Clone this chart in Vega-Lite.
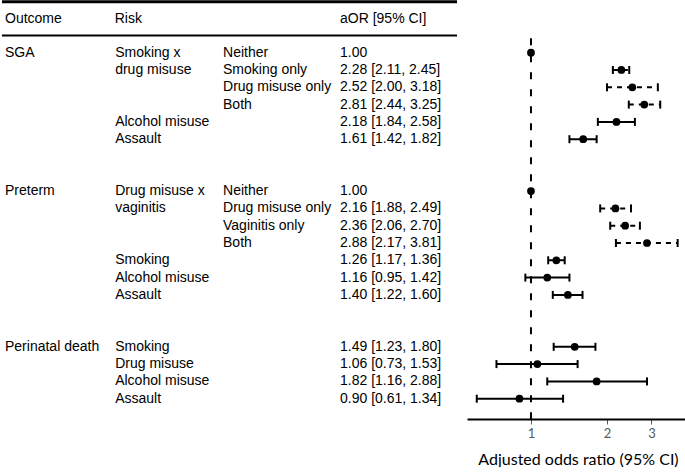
{
  "$schema": "https://vega.github.io/schema/vega-lite/v6.json",
  "padding": 0,
  "spacing": 8,
  "config": {
    "view": {"stroke": null},
    "text": {"font": "Liberation Sans", "fontSize": 14, "color": "#000000", "align": "left", "baseline": "middle"}
  },
  "datasets": {
    "header": [{"row": -2, "outcome": "Outcome", "risk": "Risk", "est": "aOR [95% CI]"}],
    "rows": [
      {"row": 0, "outcome": "SGA", "risk": "Smoking x", "sub": "Neither", "est": "1.00", "or": 1.0, "lo": null, "hi": null, "kind": "interaction"},
      {"row": 1, "outcome": "", "risk": "drug misuse", "sub": "Smoking only", "est": "2.28 [2.11, 2.45]", "or": 2.28, "lo": 2.11, "hi": 2.45, "kind": "interaction"},
      {"row": 2, "outcome": "", "risk": "", "sub": "Drug misuse only", "est": "2.52 [2.00, 3.18]", "or": 2.52, "lo": 2.0, "hi": 3.18, "kind": "interaction"},
      {"row": 3, "outcome": "", "risk": "", "sub": "Both", "est": "2.81 [2.44, 3.25]", "or": 2.81, "lo": 2.44, "hi": 3.25, "kind": "interaction"},
      {"row": 4, "outcome": "", "risk": "Alcohol misuse", "sub": "", "est": "2.18 [1.84, 2.58]", "or": 2.18, "lo": 1.84, "hi": 2.58, "kind": "main"},
      {"row": 5, "outcome": "", "risk": "Assault", "sub": "", "est": "1.61 [1.42, 1.82]", "or": 1.61, "lo": 1.42, "hi": 1.82, "kind": "main"},
      {"row": 8, "outcome": "Preterm", "risk": "Drug misuse x", "sub": "Neither", "est": "1.00", "or": 1.0, "lo": null, "hi": null, "kind": "interaction"},
      {"row": 9, "outcome": "", "risk": "vaginitis", "sub": "Drug misuse only", "est": "2.16 [1.88, 2.49]", "or": 2.16, "lo": 1.88, "hi": 2.49, "kind": "interaction"},
      {"row": 10, "outcome": "", "risk": "", "sub": "Vaginitis only", "est": "2.36 [2.06, 2.70]", "or": 2.36, "lo": 2.06, "hi": 2.7, "kind": "interaction"},
      {"row": 11, "outcome": "", "risk": "", "sub": "Both", "est": "2.88 [2.17, 3.81]", "or": 2.88, "lo": 2.17, "hi": 3.81, "kind": "interaction"},
      {"row": 12, "outcome": "", "risk": "Smoking", "sub": "", "est": "1.26 [1.17, 1.36]", "or": 1.26, "lo": 1.17, "hi": 1.36, "kind": "main"},
      {"row": 13, "outcome": "", "risk": "Alcohol misuse", "sub": "", "est": "1.16 [0.95, 1.42]", "or": 1.16, "lo": 0.95, "hi": 1.42, "kind": "main"},
      {"row": 14, "outcome": "", "risk": "Assault", "sub": "", "est": "1.40 [1.22, 1.60]", "or": 1.4, "lo": 1.22, "hi": 1.6, "kind": "main"},
      {"row": 17, "outcome": "Perinatal death", "risk": "Smoking", "sub": "", "est": "1.49 [1.23, 1.80]", "or": 1.49, "lo": 1.23, "hi": 1.8, "kind": "main"},
      {"row": 18, "outcome": "", "risk": "Drug misuse", "sub": "", "est": "1.06 [0.73, 1.53]", "or": 1.06, "lo": 0.73, "hi": 1.53, "kind": "main"},
      {"row": 19, "outcome": "", "risk": "Alcohol misuse", "sub": "", "est": "1.82 [1.16, 2.88]", "or": 1.82, "lo": 1.16, "hi": 2.88, "kind": "main"},
      {"row": 20, "outcome": "", "risk": "Assault", "sub": "", "est": "0.90 [0.61, 1.34]", "or": 0.9, "lo": 0.61, "hi": 1.34, "kind": "main"}
    ]
  },
  "hconcat": [
    {
      "width": 455,
      "height": 418,
      "layer": [
        {
          "data": {"name": "header"},
          "mark": {"type": "rule", "strokeWidth": 3, "color": "#000000"},
          "encoding": {"y": {"datum": -2.94, "type": "quantitative", "scale": {"domain": [-2.988, 21.173], "reverse": true, "nice": false, "zero": false}, "axis": null}}
        },
        {
          "data": {"name": "header"},
          "mark": {"type": "rule", "strokeWidth": 2, "color": "#000000"},
          "encoding": {"y": {"datum": -1, "type": "quantitative", "axis": null}}
        },
        {
          "data": {"name": "header"},
          "mark": {"type": "text", "dy": 1},
          "encoding": {
            "x": {"datum": "Outcome", "type": "nominal", "scale": {"type": "point", "domain": ["Outcome", "Risk", "Sub", "aOR"], "range": [3, 338], "padding": 0}, "axis": null},
            "y": {"field": "row", "type": "quantitative", "axis": null},
            "text": {"field": "outcome"}
          }
        },
        {
          "data": {"name": "header"},
          "mark": {"type": "text", "dy": 1, "dx": -2},
          "encoding": {
            "x": {"datum": "Risk", "type": "nominal", "axis": null},
            "y": {"field": "row", "type": "quantitative", "axis": null},
            "text": {"field": "risk"}
          }
        },
        {
          "data": {"name": "header"},
          "mark": {"type": "text", "dy": 1},
          "encoding": {
            "x": {"datum": "aOR", "type": "nominal", "axis": null},
            "y": {"field": "row", "type": "quantitative", "axis": null},
            "text": {"field": "est"}
          }
        },
        {
          "data": {"name": "rows"},
          "mark": {"type": "text"},
          "encoding": {
            "x": {"datum": "Outcome", "type": "nominal", "axis": null},
            "y": {"field": "row", "type": "quantitative", "axis": null},
            "text": {"field": "outcome"}
          }
        },
        {
          "data": {"name": "rows"},
          "mark": {"type": "text", "dx": -1.5},
          "encoding": {
            "x": {"datum": "Risk", "type": "nominal", "axis": null},
            "y": {"field": "row", "type": "quantitative", "axis": null},
            "text": {"field": "risk"}
          }
        },
        {
          "data": {"name": "rows"},
          "mark": {"type": "text", "dx": -5.3},
          "encoding": {
            "x": {"datum": "Sub", "type": "nominal", "axis": null},
            "y": {"field": "row", "type": "quantitative", "axis": null},
            "text": {"field": "sub"}
          }
        },
        {
          "data": {"name": "rows"},
          "mark": {"type": "text"},
          "encoding": {
            "x": {"datum": "aOR", "type": "nominal", "axis": null},
            "y": {"field": "row", "type": "quantitative", "axis": null},
            "text": {"field": "est"}
          }
        }
      ]
    },
    {
      "width": 222,
      "height": 418,
      "layer": [
        {
          "data": {"name": "header"},
          "mark": {"type": "rule", "strokeWidth": 2, "strokeDash": [7, 10], "color": "#000000"},
          "encoding": {
            "x": {"datum": 1, "type": "quantitative"},
            "y": {"datum": -0.83, "type": "quantitative", "scale": {"domain": [-2.988, 21.173], "reverse": true, "nice": false, "zero": false}, "axis": null},
            "y2": {"datum": 21.173}
          }
        },
        {
          "data": {"name": "rows"},
          "transform": [{"filter": "datum.lo != null"}],
          "mark": {"type": "rule", "strokeWidth": 2, "color": "#000000"},
          "encoding": {
            "x": {"field": "lo", "type": "quantitative"},
            "x2": {"field": "hi"},
            "y": {"field": "row", "type": "quantitative", "axis": null},
            "strokeDash": {"field": "kind", "type": "nominal", "scale": {"domain": ["interaction", "main"], "range": [[5, 5], [1, 0]]}, "legend": null}
          }
        },
        {
          "data": {"name": "rows"},
          "transform": [{"filter": "datum.lo != null"}],
          "mark": {"type": "tick", "orient": "vertical", "thickness": 2, "size": 8, "color": "#000000", "opacity": 1},
          "encoding": {
            "x": {"field": "lo", "type": "quantitative"},
            "y": {"field": "row", "type": "quantitative", "axis": null}
          }
        },
        {
          "data": {"name": "rows"},
          "transform": [{"filter": "datum.lo != null"}],
          "mark": {"type": "tick", "orient": "vertical", "thickness": 2, "size": 8, "color": "#000000", "opacity": 1},
          "encoding": {
            "x": {"field": "hi", "type": "quantitative"},
            "y": {"field": "row", "type": "quantitative", "axis": null}
          }
        },
        {
          "data": {"name": "rows"},
          "mark": {"type": "circle", "size": 60, "color": "#000000", "opacity": 1},
          "encoding": {
            "x": {
              "field": "or",
              "type": "quantitative",
              "scale": {"type": "log", "domain": [0.558, 4.225], "nice": false, "zero": false},
              "axis": {
                "values": [1, 2, 3],
                "format": "~g",
                "grid": false,
                "domainColor": "#000000",
                "domainWidth": 2,
                "tickColor": "#595959",
                "tickSize": 5,
                "tickWidth": 1,
                "labelFont": "Lato",
                "labelFontSize": 13,
                "labelColor": "#595959",
                "labelPadding": 3,
                "title": "Adjusted odds ratio (95% CI)",
                "titleFont": "Lato",
                "titleFontSize": 16,
                "titleFontWeight": "normal",
                "titleColor": "#000000",
                "titlePadding": 11
              }
            },
            "y": {"field": "row", "type": "quantitative", "axis": null}
          }
        }
      ]
    }
  ]
}
